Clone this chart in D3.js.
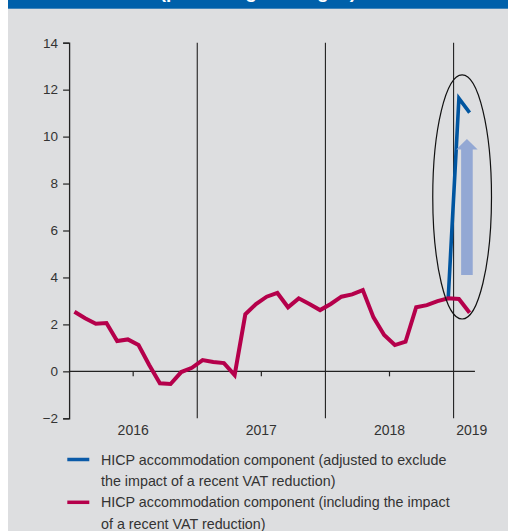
<!DOCTYPE html>
<html>
<head>
<meta charset="utf-8">
<script src="https://cdn.jsdelivr.net/npm/d3@7"></script>
<style>
  html, body { margin: 0; padding: 0; background: #ffffff; }
  svg { display: block; }
  text { font-family: "Liberation Sans", Arial, sans-serif; }
</style>
</head>
<body>
<svg id="chart" width="508" height="531"></svg>
<script>
// Monthly observations, January 2016 to February 2019
const months = [
  "2016-01","2016-02","2016-03","2016-04","2016-05","2016-06","2016-07","2016-08","2016-09","2016-10","2016-11","2016-12",
  "2017-01","2017-02","2017-03","2017-04","2017-05","2017-06","2017-07","2017-08","2017-09","2017-10","2017-11","2017-12",
  "2018-01","2018-02","2018-03","2018-04","2018-05","2018-06","2018-07","2018-08","2018-09","2018-10","2018-11","2018-12",
  "2019-01","2019-02"
];

// HICP accommodation component, including the VAT reduction
const includingVat = [
  2.54, 2.26, 2.03, 2.06, 1.29, 1.36, 1.12, 0.27, -0.51, -0.54, -0.03, 0.15,
  0.48, 0.40, 0.35, -0.16, 2.43, 2.87, 3.18, 3.34, 2.73, 3.11, 2.87, 2.61,
  2.87, 3.18, 3.28, 3.46, 2.30, 1.55, 1.12, 1.26, 2.73, 2.82, 2.99, 3.11,
  3.08, 2.50
];

// HICP accommodation component, adjusted to exclude the VAT reduction
const excludingVat = [
  null, null, null, null, null, null, null, null, null, null, null, null,
  null, null, null, null, null, null, null, null, null, null, null, null,
  null, null, null, null, null, null, null, null, null, null, null, 3.13,
  11.63, 11.02
];

const yTicks = [-2, 0, 2, 4, 6, 8, 10, 12, 14];
const yearLabels = ["2016", "2017", "2018", "2019"];
const yearLabelMonths = [6, 18, 30, 37.7];   // label positions, in months from Jan 2016
const yearBreaks = ["2017-01", "2018-01", "2019-01"];
const midYearTicks = ["2016-07", "2017-07", "2018-07"];

const legendLabels = [
  ["HICP accommodation component (adjusted to exclude", "the impact of a recent VAT reduction)"],
  ["HICP accommodation component (including the impact", "of a recent VAT reduction)"]
];

const colors = { excl: "#0055a0", incl: "#b5004b", legendExcl: "#0a5aa8", arrow: "#93a8d4" };

const svg = d3.select("#chart");
const W = 508, H = 531;

// panel background and header band
svg.append("rect").attr("x", 8).attr("y", 0).attr("width", W - 8).attr("height", H).attr("fill", "#dddee0");
svg.append("rect").attr("x", 8).attr("y", 0).attr("width", W - 8).attr("height", 8.7).attr("fill", "#0060aa");
svg.append("text")
  .attr("x", 258).attr("y", -2.5)
  .attr("text-anchor", "middle")
  .attr("fill", "#ffffff")
  .attr("font-weight", "bold")
  .attr("font-size", 19)
  .text("(percentage changes)");

const x = d3.scaleBand().domain(months).range([69.1, 69.1 + 10.68 * 38]).padding(0);
const xm = d3.scaleLinear().domain([0, 38]).range(x.range());
const y = d3.scaleLinear().domain([-2, 14]).range([418.3, 42.7]);
const cx = m => x(m) + x.bandwidth() / 2;

const axisColor = "#222222";
const labelColor = "#333333";

// y axis
const yAxis = svg.append("g")
  .attr("transform", `translate(${x.range()[0]},0)`)
  .call(d3.axisLeft(y).tickValues(yTicks).tickSize(6).tickPadding(5).tickFormat(d3.format("d")));
yAxis.select(".domain").attr("stroke", axisColor).attr("stroke-width", 1.3);
yAxis.selectAll(".tick line").attr("stroke", axisColor).attr("stroke-width", 1.2);
yAxis.selectAll(".tick text").attr("fill", labelColor).attr("font-size", 13.5)
  .attr("font-family", "Liberation Sans, Arial, sans-serif");

// year separators
svg.append("g").selectAll("line").data(yearBreaks).join("line")
  .attr("x1", d => x(d)).attr("x2", d => x(d))
  .attr("y1", y(14)).attr("y2", y(-2))
  .attr("stroke", axisColor).attr("stroke-width", 1.1);

// zero line and mid-year ticks
svg.append("line")
  .attr("x1", x.range()[0]).attr("x2", x.range()[1])
  .attr("y1", y(0)).attr("y2", y(0))
  .attr("stroke", axisColor).attr("stroke-width", 1.2);
svg.append("g").selectAll("line").data(midYearTicks).join("line")
  .attr("x1", d => x(d)).attr("x2", d => x(d))
  .attr("y1", y(0)).attr("y2", y(0) + 5)
  .attr("stroke", axisColor).attr("stroke-width", 1.2);

// year labels
svg.append("g").selectAll("text").data(yearLabels).join("text")
  .attr("x", (d, i) => xm(yearLabelMonths[i]))
  .attr("y", 434.5)
  .attr("text-anchor", "middle")
  .attr("fill", labelColor)
  .attr("font-size", 14)
  .text(d => d);

// series
const line = vals => d3.line()
  .defined(d => d.v !== null)
  .x(d => cx(d.m))
  .y(d => y(d.v))(months.map((m, i) => ({ m, v: vals[i] })));

svg.append("path").attr("d", line(excludingVat))
  .attr("fill", "none").attr("stroke", colors.excl).attr("stroke-width", 3.6)
  .attr("stroke-linejoin", "miter");
svg.append("path").attr("d", line(includingVat))
  .attr("fill", "none").attr("stroke", colors.incl).attr("stroke-width", 4)
  .attr("stroke-linejoin", "miter");

// annotation: arrow and ellipse around the latest jump
const arrowMonth = [37.25];
const arrowValues = [4.1, 9.45, 9.9];   // shaft base, head base, tip
const ax = xm(arrowMonth[0]);
const shaftHalf = 5.8, headHalf = 10.7;
svg.append("path")
  .attr("d", [
    "M", ax - shaftHalf, y(arrowValues[0]),
    "L", ax - shaftHalf, y(arrowValues[1]),
    "L", ax - headHalf, y(arrowValues[1]),
    "L", ax, y(arrowValues[2]),
    "L", ax + headHalf, y(arrowValues[1]),
    "L", ax + shaftHalf, y(arrowValues[1]),
    "L", ax + shaftHalf, y(arrowValues[0]), "Z"
  ].join(" "))
  .attr("fill", colors.arrow);

const ellipseCenter = [36.8, 7.43];   // months from Jan 2016, value
const ellipseRadius = [2.75, 5.2];
svg.append("ellipse")
  .attr("cx", xm(ellipseCenter[0]))
  .attr("cy", y(ellipseCenter[1]))
  .attr("rx", xm(ellipseRadius[0]) - xm(0))
  .attr("ry", y(0) - y(ellipseRadius[1]))
  .attr("fill", "none").attr("stroke", "#111111").attr("stroke-width", 1.2);

// legend
const legend = svg.append("g");
const legendY = [459.5, 502.3];
const legendColors = [colors.legendExcl, colors.incl];
legendLabels.forEach((lines, i) => {
  legend.append("line")
    .attr("x1", 67.3).attr("x2", 89.3)
    .attr("y1", legendY[i]).attr("y2", legendY[i])
    .attr("stroke", legendColors[i]).attr("stroke-width", 3.5);
  lines.forEach((t, j) => {
    legend.append("text")
      .attr("x", 101).attr("y", legendY[i] + j * 21.5 + 5)
      .attr("fill", labelColor)
      .attr("font-size", 14.3)
      .text(t);
  });
});
</script>
</body>
</html>
